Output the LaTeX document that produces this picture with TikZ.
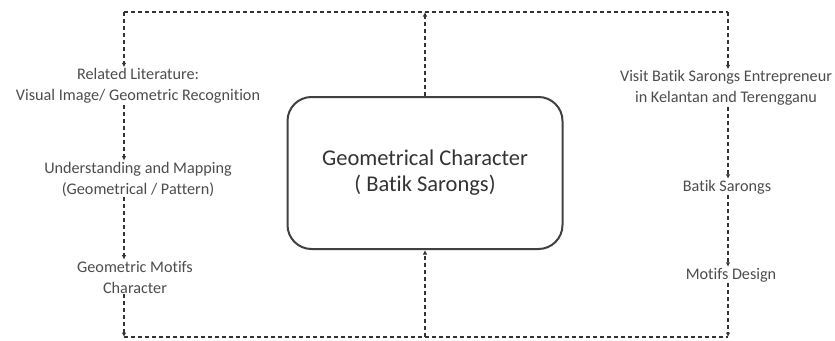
\documentclass[tikz,border=0pt]{standalone}
\usepackage{fontspec}
\setmainfont{Carlito}[Ligatures=NoCommon]
\usetikzlibrary{arrows.meta}

\tikzset{
  flow/.style={draw=black!80, line width=1.7pt, dash pattern=on 4pt off 3pt},
  tip/.style={-{Latex[length=4.5pt,width=4.5pt]}},
  txt/.style={align=center, text=black!70, inner sep=1pt, font=\fontsize{16.2}{21}\selectfont},
}

\begin{document}
\begin{tikzpicture}[x=1pt, y=-1pt]
            \useasboundingbox (0, 0) rectangle (835, 340);
            % corners of the loop
            \coordinate (tl) at (124, 12);
            \coordinate (tr) at (728, 12);
            \coordinate (bl) at (124, 337);
            \coordinate (br) at (728, 337);
            % centre box
            \node[draw=black!75, line width=2pt, rounded corners=24pt,
                  minimum width=275pt, minimum height=152pt, align=center,
                  text=black!80, font=\fontsize{22.5}{26}\selectfont] (geo) at (425, 173)
                {Geometrical Character\\( Batik Sarongs)};
            % left column
            \node[txt] (lit) at (138, 86) {Related Literature:\\Visual Image/ Geometric Recognition};
            \node[txt] (map) at (138, 179) {Understanding and Mapping\\(Geometrical / Pattern)};
            \node[txt] (motif) at (135, 277) {Geometric Motifs\\Character};
            % right column
            \node[txt] (visit) at (726, 88) {Visit Batik Sarongs Entrepreneur\\in Kelantan and Terengganu};
            \node[txt] (sarong) at (727, 187) {Batik Sarongs};
            \node[txt] (design) at (731, 275) {Motifs Design};
            % loop round the box
            \draw[flow] (tl) -- (tr);
            \draw[flow] (bl) -- (br);
            \draw[flow, tip] (geo.north) -- (geo.north |- tl);
            \draw[flow, tip] (geo.south |- bl) -- (geo.south);
            % left chain
            \draw[flow, tip] (tl) -- (tl |- lit.north);
            \draw[flow, tip] (tl |- lit.south) -- (tl |- map.north);
            \draw[flow, tip] (tl |- map.south) -- (tl |- motif.north);
            \draw[flow, tip] (tl |- motif.south) -- (bl);
            % right chain
            \draw[flow, tip] (tr) -- (tr |- visit.north);
            \draw[flow, tip] (tr |- visit.south) -- (tr |- sarong.north);
            \draw[flow, tip] (tr |- sarong.south) -- (tr |- design.north);
            \draw[flow, tip] (tr |- design.south) -- (br);
\end{tikzpicture}
\end{document}
